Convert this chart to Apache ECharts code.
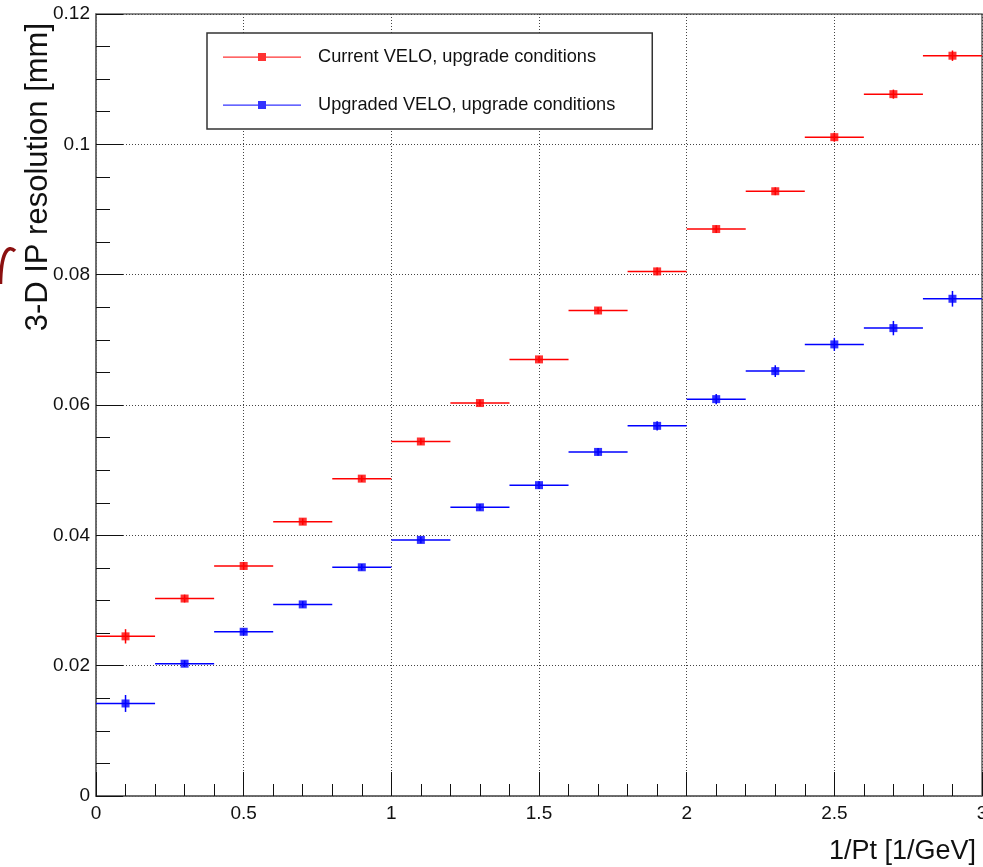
<!DOCTYPE html>
<html>
<head>
<meta charset="utf-8">
<title>3-D IP resolution vs 1/Pt</title>
<script src="https://cdn.jsdelivr.net/npm/echarts@6/dist/echarts.min.js"></script>
<style>
  html, body { margin: 0; padding: 0; background: #fff; }
  #chart { width: 983px; height: 867px; }
</style>
</head>
<body>
<div id="chart"></div>
<script>
// Bin centres in 1/Pt [1/GeV]; each bin is 0.2 wide
const binCenters = [0.1, 0.3, 0.5, 0.7, 0.9, 1.1, 1.3, 1.5, 1.7, 1.9, 2.1, 2.3, 2.5, 2.7, 2.9];
const binHalfWidth = 0.1;

// 3-D IP resolution [mm] per bin
const currentVelo = [0.0245, 0.0303, 0.0353, 0.0421, 0.0487, 0.0544, 0.0603, 0.0670, 0.0745, 0.0805, 0.0870, 0.0928, 0.1011, 0.1077, 0.1136];
const currentVeloErr = [0.0011, 0.0006, 0.0006, 0.0005, 0.0005, 0.0005, 0.0005, 0.0005, 0.0005, 0.0006, 0.0006, 0.0006, 0.0007, 0.0007, 0.0008];

const upgradedVelo = [0.0142, 0.0203, 0.0252, 0.0294, 0.0351, 0.0393, 0.0443, 0.0477, 0.0528, 0.0568, 0.0609, 0.0652, 0.0693, 0.0718, 0.0763];
const upgradedVeloErr = [0.0013, 0.0005, 0.0005, 0.0005, 0.0005, 0.0005, 0.0005, 0.0006, 0.0006, 0.0007, 0.0008, 0.0009, 0.0010, 0.0011, 0.0012];

// Axis ticks
const xTickLabels = ['0', '0.5', '1', '1.5', '2', '2.5', '3'];
const yTickLabels = ['0', '0.02', '0.04', '0.06', '0.08', '0.1', '0.12'];

const seriesNames = ['Current VELO, upgrade conditions', 'Upgraded VELO, upgrade conditions'];
const seriesColors = ['#ff0000', '#0000ff'];

const FONT = '"Liberation Sans", Arial, Helvetica, sans-serif';

function toPoints(values, errs) {
  return binCenters.map((x, i) => [x, values[i], errs[i]]);
}

// Error bars: horizontal bin width plus vertical uncertainty
function errorBarRenderer(color) {
  return function (params, api) {
    const x = api.value(0), y = api.value(1), e = api.value(2);
    const left = api.coord([x - binHalfWidth, y]);
    const right = api.coord([x + binHalfWidth, y]);
    const lo = api.coord([x, y - e]);
    const hi = api.coord([x, y + e]);
    const style = { stroke: color, lineWidth: 1.5 };
    return {
      type: 'group',
      children: [
        { type: 'line', shape: { x1: left[0], y1: left[1], x2: right[0], y2: right[1] }, style },
        { type: 'line', shape: { x1: lo[0], y1: lo[1], x2: hi[0], y2: hi[1] }, style }
      ]
    };
  };
}

const legendIcon = 'path://M0,3.5h78v1.2h-78z M35,0h8v8h-8z';

const chart = echarts.init(document.getElementById('chart'), null, { renderer: 'canvas' });

chart.setOption({
  animation: false,
  backgroundColor: '#fff',
  textStyle: { fontFamily: FONT },
  grid: {
    left: 96, top: 14, right: 1, bottom: 71,
    outerBoundsMode: 'none', containLabel: false,
    show: true, borderColor: '#666', borderWidth: 1.5, backgroundColor: 'transparent'
  },
  legend: {
    orient: 'vertical',
    left: 207, top: 33,
    padding: [15, 37, 15, 16],
    itemGap: 30,
    itemWidth: 78, itemHeight: 8,
    borderColor: '#333', borderWidth: 1.5,
    backgroundColor: '#fff',
    selectedMode: false,
    textStyle: { fontFamily: FONT, fontSize: 18.2, color: '#111', padding: [0, 0, 0, 12] },
    data: seriesNames.map((n, i) => ({ name: n, icon: legendIcon, itemStyle: { color: seriesColors[i] } }))
  },
  xAxis: {
    type: 'value', min: 0, max: 3, interval: 0.5,
    axisLine: { show: true, onZero: false, lineStyle: { color: '#666', width: 1.5 } },
    axisTick: { show: true, inside: true, length: 24, lineStyle: { color: '#111', width: 1 } },
    minorTick: { show: true, splitNumber: 5, length: 12, lineStyle: { color: '#111', width: 1 } },
    splitLine: { show: true, lineStyle: { color: '#444', type: [1, 2], width: 1 } },
    axisLabel: {
      margin: 8, fontSize: 19, color: '#111', fontFamily: FONT,
      formatter: (v) => xTickLabels[Math.round(v / 0.5)] ?? ''
    }
  },
  yAxis: {
    type: 'value', min: 0, max: 0.12, interval: 0.02,
    axisLine: { show: true, onZero: false, lineStyle: { color: '#666', width: 1.5 } },
    axisTick: { show: true, inside: true, length: 27, lineStyle: { color: '#111', width: 1 } },
    minorTick: { show: true, splitNumber: 4, length: 14, lineStyle: { color: '#111', width: 1 } },
    splitLine: { show: true, lineStyle: { color: '#444', type: [1, 2], width: 1 } },
    axisLabel: {
      margin: 6, fontSize: 19, color: '#111', fontFamily: FONT,
      formatter: (v) => yTickLabels[Math.round(v / 0.02)] ?? ''
    }
  },
  series: [
    {
      type: 'custom', name: seriesNames[0] + ' errors', renderItem: errorBarRenderer(seriesColors[0]),
      data: toPoints(currentVelo, currentVeloErr), encode: { x: 0, y: 1 }, z: 2, silent: true
    },
    {
      type: 'custom', name: seriesNames[1] + ' errors', renderItem: errorBarRenderer(seriesColors[1]),
      data: toPoints(upgradedVelo, upgradedVeloErr), encode: { x: 0, y: 1 }, z: 2, silent: true
    },
    {
      type: 'scatter', name: seriesNames[0], symbol: 'rect', symbolSize: 8,
      itemStyle: { color: seriesColors[0] }, z: 3,
      data: toPoints(currentVelo, currentVeloErr)
    },
    {
      type: 'scatter', name: seriesNames[1], symbol: 'rect', symbolSize: 8,
      itemStyle: { color: seriesColors[1] }, z: 3,
      data: toPoints(upgradedVelo, upgradedVeloErr)
    }
  ],
  graphic: [
    {
      type: 'text', x: 38, y: 23, rotation: Math.PI / 2,
      style: {
        text: '3-D IP resolution [mm]', fontFamily: FONT, fontSize: 31, fill: '#111',
        textAlign: 'right', textVerticalAlign: 'middle'
      }
    },
    {
      type: 'text', x: 976, y: 852,
      style: {
        text: '1/Pt [1/GeV]', fontFamily: FONT, fontSize: 27, fill: '#111',
        textAlign: 'right', textVerticalAlign: 'middle'
      }
    },
    {
      // clipped glyph fragment at the left margin
      type: 'bezierCurve',
      shape: { x1: 0.5, y1: 284, cpx1: 1, cpy1: 252, cpx2: 8, cpy2: 244, x2: 15, y2: 251 },
      style: { stroke: '#8b1010', lineWidth: 3.5, fill: null }
    }
  ]
});
</script>
</body>
</html>
